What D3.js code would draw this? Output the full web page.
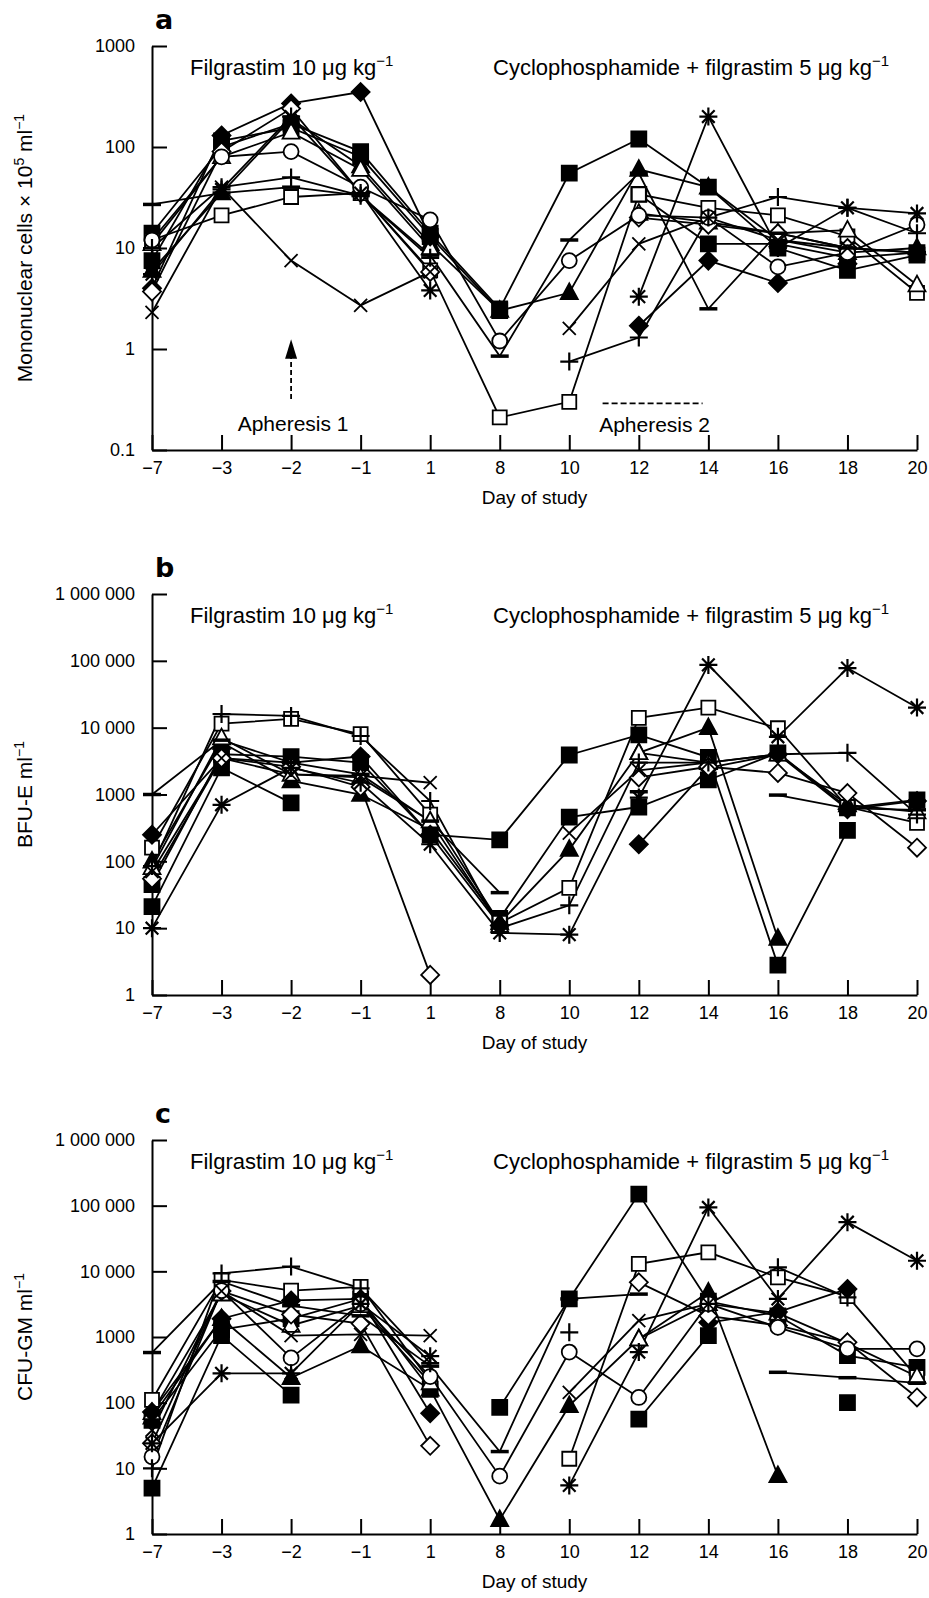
<!DOCTYPE html>
<html>
<head>
<meta charset="utf-8">
<script src="https://cdn.jsdelivr.net/npm/d3@7"></script>
<style>
  body { margin: 0; background: #fff; }
  text { font-family: "Liberation Sans", Arial, sans-serif; fill: #000; }
</style>
</head>
<body>
<svg id="canvas" width="929" height="1598"></svg>
<script>
// Days of study (categorical, evenly spaced)
let days = ['−7', '−3', '−2', '−1', '1', '8', '10', '12', '14', '16', '18', '20']

// One marker per patient series
let markers = ['sqF', 'sqF', 'sqO', 'triF', 'triO', 'diaF', 'diaO', 'circ', 'plus', 'cross', 'star', 'dash']

// a: mononuclear cells x 10^5 ml-1 (one row per marker above)
let mncValues = [
    [14, 100, 170, 90, 14, 2.5, 55, 120, 40, 10, 6, 8.5],
    [7.5, 115, 155, 80, 13, 2.4, null, 34, 11, 11, 8, 9],
    [12, 21, 32, 35, 6, 0.21, 0.3, 34, 25, 21, 13, 3.6],
    [6, 35, 190, 65, 11, 2.4, 3.6, 60, 40, 12, 9, 10],
    [11, 80, 140, 60, 10, null, null, 22, 18, 14, 15, 4.3],
    [4, 130, 270, 350, 13, null, null, 1.7, 7.5, 4.5, 7, null],
    [3.7, 90, 240, 35, 5.8, null, null, 20, 17, 14, 10, null],
    [12, 80, 90, 40, 19, 1.2, 7.5, 21, 20, 6.5, 9, 17],
    [10, 40, 50, 33, 8, null, 0.75, 1.3, 20, 32, 25, 14],
    [2.3, 40, 7.5, 2.7, 5.8, null, 1.6, 11, 20, 12, 10, 9],
    [5.5, 38, 200, 35, 3.8, null, null, 3.3, 200, 10, 25, 22],
    [27, 35, 40, 33, 8.5, 0.85, 12, 55, 2.5, 14, 10, 9]
]

// b: BFU-E ml-1
let bfuValues = [
    [45, 4000, 3700, 3000, 250, 210, 3900, 7800, 3600, 2.8, 290, null],
    [21, 2500, 750, null, null, 14, 460, 650, 1650, 4200, 630, 830],
    [160, 11500, 13500, 8000, 500, 12, 40, 14000, 20000, 9800, 650, 375],
    [100, 6000, 1600, 1000, 300, 12, 150, 4200, 10000, 7, null, null],
    [80, 7000, 2000, 1800, 400, 11, null, 4200, 3000, 4000, 700, 550],
    [250, 3500, 3000, 3700, 250, 11, null, 180, 2500, 4000, 600, 800],
    [55, 3500, 2600, 1300, 2, null, null, 1800, 2600, 2100, 1050, 160],
    [null, null, null, null, null, null, null, null, null, null, null, null],
    [85, 16000, 15000, 7500, 800, 10, 22, 3000, 3000, 4000, 4200, 500],
    [70, 3500, 2000, 1900, 1500, null, 265, 2300, 3000, null, null, null],
    [10, 700, 2500, 1500, 180, 8.5, 8, 900, 87000, 7300, 78000, 20000],
    [1000, 6500, 3000, 2000, 400, 34, null, 1100, null, 980, 620, 590]
]

// c: CFU-GM ml-1
let cfuValues = [
    [5, 1050, 130, null, null, 85, 3800, 150000, 3500, 2100, 520, 345],
    [54, 1300, 1900, 3800, 160, null, null, 56, 1050, null, 100, null],
    [110, 7400, 5100, 5800, 210, null, 14, 13000, 19500, 8100, 4200, 245],
    [60, 1900, 240, 730, 160, 1.65, 90, 930, 4800, 7.7, null, null],
    [70, 4500, 1500, 3000, 200, null, null, 930, 3200, 2300, 800, 250],
    [72, 1900, 3600, 3800, 69, null, null, null, 1660, 2400, 5400, null],
    [24, 5000, 2200, 1600, 22, null, null, 6800, 2100, 1500, 830, 120],
    [15, 5100, 480, 3200, 250, 7.6, 590, 120, 3200, 1400, 660, 660],
    [10, 9300, 11800, 5500, 400, null, 1180, null, 3200, 11500, 4000, null],
    [38, 5000, 1050, 1100, 1050, null, 144, 1780, 3200, null, null, null],
    [24, 280, 280, 3200, 510, null, 5.5, 590, 94000, 3800, 56000, 14500],
    [580, 7000, 3000, 2100, 360, 18, 3800, 4500, null, 290, 240, 200]
]

// y ticks
let mncTicks = [0.1, 1, 10, 100, 1000]
let mncTickLabels = ['0.1', '1', '10', '100', '1000']
let colonyTicks = [1, 10, 100, 1000, 10000, 100000, 1000000]
let colonyTickLabels = ['1', '10', '100', '1000', '10 000', '100 000', '1 000 000']

let svg = d3.select('#canvas')

let x = d3.scalePoint().domain(days).range([152, 917])

let panels = [
    { letter: 'a', values: mncValues, domain: [0.1, 1000], range: [450, 46], ticks: mncTicks, labels: mncTickLabels,
      title: [['Mononuclear cells × 10', 0], ['5', 1], [' ml', 0], ['−1', 1]] },
    { letter: 'b', values: bfuValues, domain: [1, 1000000], range: [995, 594], ticks: colonyTicks, labels: colonyTickLabels,
      title: [['BFU-E ml', 0], ['−1', 1]] },
    { letter: 'c', values: cfuValues, domain: [1, 1000000], range: [1534, 1140], ticks: colonyTicks, labels: colonyTickLabels,
      title: [['CFU-GM ml', 0], ['−1', 1]] }
]

// marker shapes
let markerPath = (type) => {
    let h
    switch (type) {
        case 'sqF': h = 7.5; return `M${-h},${-h}h${2 * h}v${2 * h}h${-2 * h}Z`
        case 'sqO': h = 7; return `M${-h},${-h}h${2 * h}v${2 * h}h${-2 * h}Z`
        case 'triF':
        case 'triO': h = 8.5; return `M0,${-h * 1.1}L${h},${h * 0.75}L${-h},${h * 0.75}Z`
        case 'diaF':
        case 'diaO': h = 9; return `M0,${-h}L${h},0L0,${h}L${-h},0Z`
        case 'circ': h = 7.5; return `M${h},0A${h},${h} 0 1,1 ${-h},0A${h},${h} 0 1,1 ${h},0Z`
        case 'plus': h = 9; return `M${-h},0H${h}M0,${-h}V${h}`
        case 'cross': h = 6.5; return `M${-h},${-h}L${h},${h}M${-h},${h}L${h},${-h}`
        case 'star': h = 9; let d = h * 0.7
            return `M${-h},0H${h}M0,${-h}V${h}M${-d},${-d}L${d},${d}M${-d},${d}L${d},${-d}`
        case 'dash': h = 9; return `M${-h},0H${h}`
    }
}
let markerFill = (type) => {
    if (['sqF', 'triF', 'diaF'].includes(type)) return '#000'
    if (['sqO', 'triO', 'diaO', 'circ'].includes(type)) return '#fff'
    return 'none'
}
let markerStroke = (type) => {
    if (type === 'dash') return 3.5
    if (type === 'star' || type === 'plus') return 2.2
    return 1.8
}

let drawPanel = (p) => {
    let y = d3.scaleLog().domain(p.domain).range(p.range)
    let g = svg.append('g')

    // axes, ticks pointing inward
    let yAxis = d3.axisLeft(y)
        .tickValues(p.ticks)
        .tickFormat((d, i) => p.labels[i])
        .tickSizeInner(-15)
        .tickSizeOuter(0)
        .tickPadding(17)
    g.append('g')
        .attr('transform', `translate(${x.range()[0]},0)`)
        .call(yAxis)
        .call(a => a.selectAll('text').style('font-size', '18px').style('font-family', '"Liberation Sans", Arial, sans-serif'))

    let xAxis = d3.axisBottom(x)
        .tickSizeInner(-15)
        .tickSizeOuter(0)
        .tickPadding(11)
    g.append('g')
        .attr('transform', `translate(0,${p.range[0]})`)
        .call(xAxis)
        .call(a => a.selectAll('text').style('font-size', '18px').style('font-family', '"Liberation Sans", Arial, sans-serif'))

    g.selectAll('.domain, .tick line').attr('stroke', '#000').attr('stroke-width', 2)

    // x axis title
    g.append('text')
        .attr('x', (x.range()[0] + x.range()[1]) / 2)
        .attr('y', p.range[0] + 54)
        .attr('text-anchor', 'middle')
        .style('font-size', '19px')
        .text('Day of study')

    // y axis title
    let yt = g.append('text')
        .attr('transform', `translate(32,${(p.range[0] + p.range[1]) / 2}) rotate(-90)`)
        .attr('text-anchor', 'middle')
        .style('font-size', '21px')
    p.title.forEach(([t, sup], k) => {
        yt.append('tspan')
            .attr('dy', sup ? -8 : (k > 0 ? 8 : 0))
            .style('font-size', sup ? '14px' : '21px')
            .text(t)
    })

    // panel letter
    g.append('text')
        .attr('x', 155)
        .attr('y', p.range[1] - 17)
        .style('font-family', '"DejaVu Sans", sans-serif')
        .style('font-weight', 'bold')
        .style('font-size', '27px')
        .text(p.letter)

    // treatment labels
    let addLabel = (xPos, main) => {
        let t = g.append('text')
            .attr('x', xPos)
            .attr('y', p.range[1] + 29)
            .style('font-size', '22px')
        t.append('tspan').text(main)
        t.append('tspan').attr('dy', -9).style('font-size', '15px').text('−1')
    }
    addLabel(190, 'Filgrastim 10 μg kg')
    addLabel(493, 'Cyclophosphamide + filgrastim 5 μg kg')

    // series lines
    let line = d3.line()
        .defined(v => v != null)
        .x((v, i) => x(days[i]))
        .y(v => y(v))

    g.selectAll('.series')
        .data(p.values)
        .enter()
        .append('path')
        .attr('class', 'series')
        .attr('d', line)
        .attr('fill', 'none')
        .attr('stroke', '#000')
        .attr('stroke-width', 1.8)

    // markers
    p.values.forEach((row, s) => {
        let type = markers[s]
        g.selectAll('.m' + s)
            .data(row.map((v, i) => ({ v, i })).filter(d => d.v != null))
            .enter()
            .append('path')
            .attr('class', 'm' + s)
            .attr('transform', d => `translate(${x(days[d.i])},${y(d.v)})`)
            .attr('d', markerPath(type))
            .attr('fill', markerFill(type))
            .attr('stroke', '#000')
            .attr('stroke-width', markerStroke(type))
    })

    return y
}

let yA = drawPanel(panels[0])
drawPanel(panels[1])
drawPanel(panels[2])

// Apheresis annotations in panel a
let ax1 = x('−2')
svg.append('line')
    .attr('x1', ax1).attr('x2', ax1)
    .attr('y1', yA(0.32)).attr('y2', yA(0.82))
    .attr('stroke', '#000').attr('stroke-width', 1.8)
    .attr('stroke-dasharray', '5,3')
svg.append('path')
    .attr('d', `M${ax1},${yA(1.25)}L${ax1 + 6},${yA(0.8)}L${ax1 - 6},${yA(0.8)}Z`)
    .attr('fill', '#000')
svg.append('text')
    .attr('x', ax1 + 2)
    .attr('y', yA(0.155))
    .attr('text-anchor', 'middle')
    .style('font-size', '21px')
    .text('Apheresis 1')

let ap2 = (x('12') + x('14')) / 2 - 19
svg.append('line')
    .attr('x1', ap2 - 52).attr('x2', ap2 + 48)
    .attr('y1', yA(0.29)).attr('y2', yA(0.29))
    .attr('stroke', '#000').attr('stroke-width', 1.8)
    .attr('stroke-dasharray', '6,3')
svg.append('text')
    .attr('x', ap2)
    .attr('y', yA(0.15))
    .attr('text-anchor', 'middle')
    .style('font-size', '21px')
    .text('Apheresis 2')
</script>
</body>
</html>
